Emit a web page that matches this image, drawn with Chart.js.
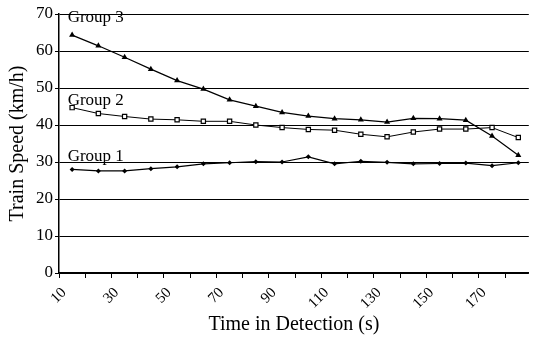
<!DOCTYPE html>
<html>
<head>
<meta charset="utf-8">
<script src="https://cdn.jsdelivr.net/npm/chart.js@4"></script>
<style>
  html, body { margin: 0; padding: 0; background: #fff; }
  #wrap { width: 534px; height: 337px; }
</style>
</head>
<body>
<div id="wrap"><canvas id="myChart"></canvas></div>
<script>
const times = [15, 25, 35, 45, 55, 65, 75, 85, 95, 105, 115, 125, 135, 145, 155, 165, 175, 185];
const group1 = [28.0, 27.6, 27.6, 28.2, 28.7, 29.5, 29.8, 30.1, 30.0, 31.4, 29.5, 30.2, 29.9, 29.5, 29.6, 29.7, 29.0, 29.8];
const group2 = [44.7, 43.1, 42.3, 41.6, 41.4, 41.0, 41.0, 40.0, 39.3, 38.8, 38.6, 37.5, 36.8, 38.1, 38.9, 38.9, 39.3, 36.6];
const group3 = [64.3, 61.4, 58.3, 55.1, 52.0, 49.7, 46.8, 45.1, 43.4, 42.4, 41.7, 41.4, 40.8, 41.8, 41.7, 41.3, 37.0, 31.8];
const seriesNames = ['Group 1', 'Group 2', 'Group 3'];

// where the group names sit, in data units
const nameSpots = [
  {text: 'Group 3', x: 13.3, y: 69.0},
  {text: 'Group 2', x: 13.3, y: 46.6},
  {text: 'Group 1', x: 13.3, y: 31.6},
];

const serif = "'Liberation Serif', 'DejaVu Serif', serif";

const toPoints = (vals) => vals.map((v, i) => ({x: times[i], y: v}));

const groupNames = {
  id: 'groupNames',
  afterDatasetsDraw(chart) {
    const {ctx, scales} = chart;
    ctx.save();
    ctx.font = '17px ' + serif;
    ctx.fillStyle = '#000';
    ctx.textBaseline = 'middle';
    ctx.textAlign = 'left';
    nameSpots.forEach((n) => {
      ctx.fillText(n.text, scales.x.getPixelForValue(n.x), scales.y.getPixelForValue(n.y));
    });
    ctx.restore();
  },
};

const $ctx = document.getElementById('myChart');
const myChart = new Chart($ctx, {
  type: 'line',
  data: {
    datasets: [
      {
        label: seriesNames[0],
        data: toPoints(group1),
        borderColor: '#000',
        backgroundColor: '#000',
        borderWidth: 1.2,
        pointStyle: 'rectRot',
        pointRadius: 2.5,
        pointBorderWidth: 0,
        tension: 0,
      },
      {
        label: seriesNames[1],
        data: toPoints(group2),
        borderColor: '#000',
        backgroundColor: '#fff',
        borderWidth: 1,
        pointStyle: 'rect',
        pointRadius: 3,
        pointBorderWidth: 1.2,
        pointBorderColor: '#000',
        tension: 0,
      },
      {
        label: seriesNames[2],
        data: toPoints(group3),
        borderColor: '#000',
        backgroundColor: '#000',
        borderWidth: 1.2,
        pointStyle: 'triangle',
        pointRadius: 3.5,
        pointBorderWidth: 0,
        tension: 0,
      },
    ],
  },
  options: {
    responsive: true,
    maintainAspectRatio: false,
    animation: false,
    layout: {padding: {top: 14, right: 0, left: 6, bottom: 0}},
    plugins: {
      legend: {display: false},
      tooltip: {enabled: false},
    },
    scales: {
      x: {
        type: 'linear',
        min: 10,
        max: 189,
        afterFit: (s) => { s.height = 64; },
        grid: {
          drawOnChartArea: false,
          drawTicks: true,
          tickLength: 5,
          color: '#000',
        },
        border: {display: true, color: '#000', width: 1.5},
        ticks: {
          stepSize: 10,
          includeBounds: false,
          autoSkip: false,
          minRotation: 45,
          maxRotation: 45,
          color: '#000',
          padding: 6,
          labelOffset: 5,
          font: {family: serif, size: 15},
          callback: (v) => (v % 20 === 10 ? String(v) : ''),
        },
        title: {
          display: true,
          text: 'Time in Detection (s)',
          color: '#000',
          font: {family: serif, size: 20},
          padding: {top: 0, bottom: 0},
        },
      },
      y: {
        min: 0,
        max: 70,
        afterFit: (s) => { s.width = 53; },
        grid: {
          color: '#000',
          lineWidth: 1,
          tickLength: 4,
        },
        border: {display: true, color: '#000', width: 1.5},
        ticks: {
          stepSize: 10,
          color: '#000',
          font: {family: serif, size: 17},
          padding: 2,
        },
        title: {
          display: true,
          text: 'Train Speed (km/h)',
          color: '#000',
          font: {family: serif, size: 20},
          padding: {top: 0, bottom: 4},
        },
      },
    },
  },
  plugins: [groupNames],
});
</script>
</body>
</html>
